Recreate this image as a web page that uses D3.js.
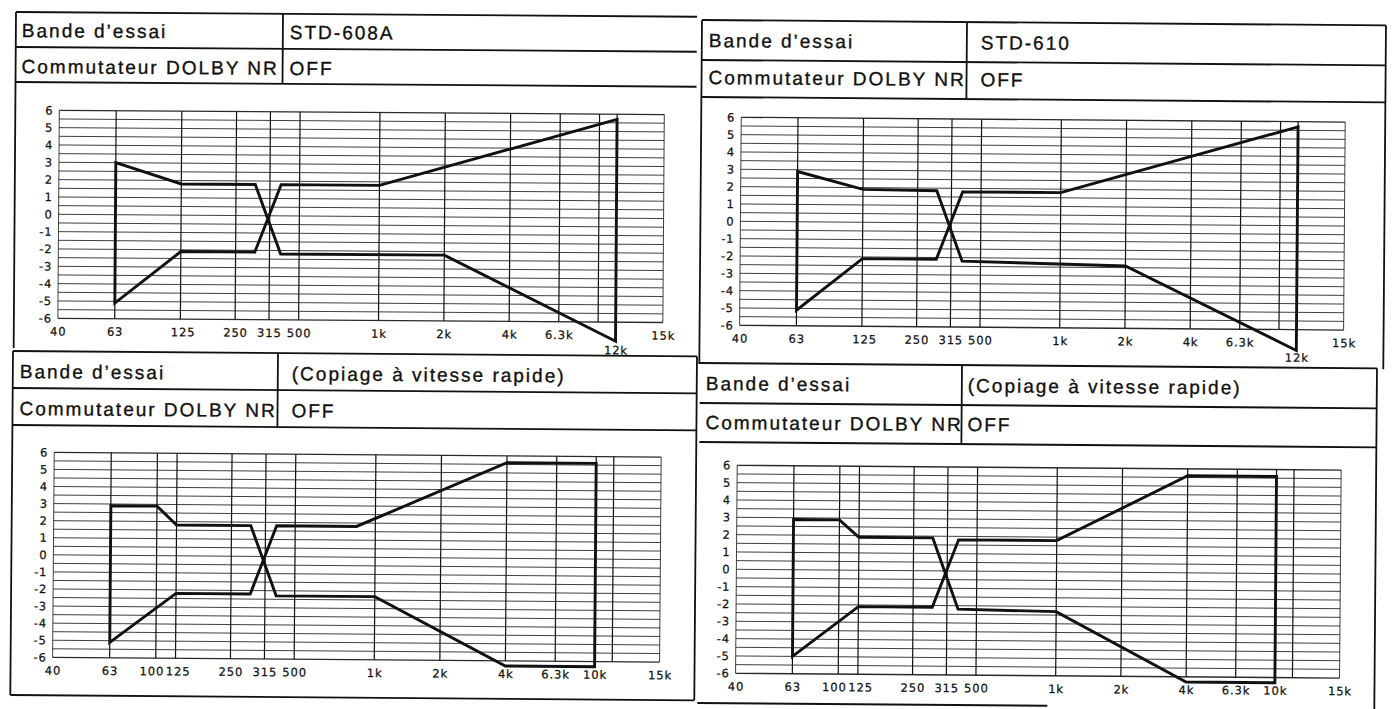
<!DOCTYPE html>
<html><head><meta charset="utf-8">
<script src="https://cdn.jsdelivr.net/npm/d3@7"></script>
<style>html,body{margin:0;padding:0;background:#fff;} svg{display:block}</style>
</head><body>
<svg id="chart" width="1394" height="709"></svg>
<script>
// ---------------- data ----------------
const rowLabels = ["Bande d\u2019essai", "Commutateur DOLBY NR"];
const tapeNames = ["STD-608A", "STD-610", "(Copiage \u00e0 vitesse rapide)", "(Copiage \u00e0 vitesse rapide)"];
const dolbySettings = ["OFF", "OFF", "OFF", "OFF"];

const dbTicks = [6, 5, 4, 3, 2, 1, 0, -1, -2, -3, -4, -5, -6];
const dbGridStep = 0.5;

const gridFreqsTop = [63, 125, 250, 315, 500, 1000, 2000, 4000, 6300, 10000, 12000];
const gridFreqsBottom = [63, 100, 125, 250, 315, 500, 1000, 2000, 4000, 6300, 10000, 12000];

const tickFreqsTop = [40, 63, 125, 250, 315, 500, 1000, 2000, 4000, 6300, 15000];
const tickLabelsTop = ["40", "63", "125", "250", "315", "500", "1k", "2k", "4k", "6.3k", "15k"];
const lowTickFreqsTop = [12000];
const lowTickLabelsTop = ["12k"];
const tickFreqsBottom = [40, 63, 100, 125, 250, 315, 500, 1000, 2000, 4000, 6300, 10000, 15000];
const tickLabelsBottom = ["40", "63", "100", "125", "250", "315", "500", "1k", "2k", "4k", "6.3k", "10k", "15k"];

// tolerance limits (upper edge starts on the +3 dB side, lower edge on the -5 dB side)
const std608A_upperFreq = [63, 125, 285, 375, 2000, 12000];
const std608A_upperDb   = [3.0, 1.8, 1.8, -2.2, -2.2, -7.1];
const std608A_lowerFreq = [63, 125, 285, 375, 1000, 12000];
const std608A_lowerDb   = [-5.1, -2.1, -2.1, 1.8, 1.8, 5.7];

const std610_upperFreq = [63, 125, 285, 375, 2000, 12000];
const std610_upperDb   = [2.9, 1.9, 1.85, -2.2, -2.4, -7.2];
const std610_lowerFreq = [63, 125, 285, 375, 1000, 12000];
const std610_lowerDb   = [-5.1, -2.1, -2.1, 1.8, 1.8, 5.7];

const copyA_upperFreq = [63, 100, 125, 285, 375, 1000, 4000, 10000];
const copyA_upperDb   = [2.9, 2.9, 1.8, 1.8, -2.3, -2.3, -6.3, -6.3];
const copyA_lowerFreq = [63, 125, 285, 375, 850, 4000, 10000];
const copyA_lowerDb   = [-5.1, -2.2, -2.2, 1.8, 1.8, 5.6, 5.6];

const copyB_upperFreq = [63, 100, 125, 285, 375, 1000, 4000, 10000];
const copyB_upperDb   = [2.9, 2.9, 1.9, 1.9, -2.2, -2.3, -6.3, -6.3];
const copyB_lowerFreq = [63, 125, 285, 375, 1000, 4000, 10000];
const copyB_lowerDb   = [-5.0, -2.1, -2.1, 1.8, 1.8, 5.6, 5.6];

// ---------------- layout ----------------
// the printed frequency axis is not a true log axis: anchor frequencies and their relative place
const axisAnchorFreqs = [40, 63, 100, 125, 250, 315, 500, 1000, 2000, 4000, 6300, 10000, 12000, 15000];
const axisAnchorFrac  = [0, 0.094, 0.170, 0.2025, 0.293, 0.349, 0.398, 0.530, 0.638, 0.746, 0.828, 0.893, 0.922, 1];

const panels = [
  { x:16, y:12, w:681, r1:35, r2:70, div:267, valX:274, textX:6, base1:25, base2:61,
    px:44, py:98, pw:605, ph:208, rot:0.4, bottomAxis:false,
    upF:std608A_upperFreq, upD:std608A_upperDb, loF:std608A_lowerFreq, loD:std608A_lowerDb,
    border:{left:[0,336]} },
  { x:702, y:20, w:684, r1:40, r2:77, div:265, valX:279, textX:7, base1:27, base2:64,
    px:40, py:97, pw:604, ph:208, rot:0.45, bottomAxis:false,
    upF:std610_upperFreq, upD:std610_upperDb, loF:std610_lowerFreq, loD:std610_lowerDb,
    border:{left:[0,344], right:[0,344]} },
  { x:13, y:351, w:684, r1:37, r2:74, div:265, valX:279, textX:7, base1:27, base2:64,
    px:42, py:101, pw:607, ph:205, rot:0.45, bottomAxis:true,
    upF:copyA_upperFreq, upD:copyA_upperDb, loF:copyA_lowerFreq, loD:copyA_lowerDb,
    border:{left:[0,344], right:[0,344], bottom:[0,684,344]} },
  { x:700, y:363, w:677, r1:40, r2:79, div:262, valX:268, textX:6, base1:27, base2:66,
    px:38, py:102, pw:604, ph:208, rot:0.45, bottomAxis:true,
    upF:copyB_upperFreq, upD:copyB_upperDb, loF:copyB_lowerFreq, loD:copyB_lowerDb,
    border:{right:[0,360], bottom:[0,350,340]} }
];

const svg = d3.select("#chart");
svg.append("rect").attr("width",1394).attr("height",709).attr("fill","#fff");

const headFont = "'Liberation Sans', Arial, Helvetica, sans-serif";
const tickFont = "'DejaVu Sans', 'Liberation Sans', sans-serif";
const ink = "#111";

function styleTicks(sel, spacing) {
  sel.attr("font-family", tickFont).attr("font-size", 11.5).attr("fill", ink)
     .attr("stroke", ink).attr("stroke-width", 0.25).attr("letter-spacing", spacing);
}

panels.forEach((p, i) => {
  const g = svg.append("g").attr("transform", `translate(${p.x},${p.y}) rotate(${p.rot})`);

  // ---- frame / header table ----
  const line = (x1,y1,x2,y2,w) => g.append("line").attr("x1",x1).attr("y1",y1).attr("x2",x2).attr("y2",y2)
      .attr("stroke",ink).attr("stroke-width",w||1.8);
  line(0,0,p.w,0);
  line(0,p.r1,p.w,p.r1);
  line(0,p.r2,p.w,p.r2);
  line(p.div,0,p.div,p.r2);
  if (p.border.left) line(0,p.border.left[0],0,p.border.left[1]);
  if (p.border.right) line(p.w,p.border.right[0],p.w,p.border.right[1]);
  if (p.border.bottom) line(p.border.bottom[0],p.border.bottom[2],p.border.bottom[1],p.border.bottom[2]);

  const txt = (x,y,s) => g.append("text").attr("x",x).attr("y",y).text(s)
      .attr("font-family",headFont).attr("font-size",19).attr("letter-spacing",2)
      .attr("fill",ink).attr("stroke",ink).attr("stroke-width",0.35);
  txt(p.textX, p.base1, rowLabels[0]);
  txt(p.textX, p.base2, rowLabels[1]);
  txt(p.valX, p.base1, tapeNames[i]);
  txt(p.valX, p.base2, dolbySettings[i]);

  // ---- plot ----
  const x = d3.scaleLog().domain(axisAnchorFreqs).range(axisAnchorFrac.map(f => f * p.pw));
  const y = d3.scaleLinear().domain([-6, 6]).range([p.ph, 0]);
  const plot = g.append("g").attr("transform", `translate(${p.px},${p.py})`);

  const hLines = d3.range(-6, 6 + 1e-9, dbGridStep);
  plot.append("g").selectAll("line").data(hLines).join("line")
    .attr("x1", 0).attr("x2", p.pw).attr("y1", d => y(d)).attr("y2", d => y(d))
    .attr("stroke", "#2a2a2a").attr("stroke-width", d => (Math.abs(d) === 6) ? 1.3 : 0.9);

  const vFreqs = p.bottomAxis ? gridFreqsBottom : gridFreqsTop;
  plot.append("g").selectAll("line").data([40, ...vFreqs, 15000]).join("line")
    .attr("x1", d => x(d)).attr("x2", d => x(d)).attr("y1", 0).attr("y2", p.ph)
    .attr("stroke", ink).attr("stroke-width", d => (d === 40 || d === 15000) ? 0.8 : 1.2);

  // y axis labels
  const yAxis = d3.axisLeft(y).tickValues(dbTicks).tickSize(0).tickPadding(6)
    .tickFormat(d => d < 0 ? "-" + Math.abs(d) : String(d));
  const ya = plot.append("g").call(yAxis);
  ya.select(".domain").remove();
  styleTicks(ya.selectAll("text"), 0.8);

  // x axis labels
  const tf = p.bottomAxis ? tickFreqsBottom : tickFreqsTop;
  const tl = p.bottomAxis ? tickLabelsBottom : tickLabelsTop;
  const xAxis = d3.axisBottom(x).tickValues(tf).tickSize(0).tickPadding(9)
    .tickFormat(d => tl[tf.indexOf(d)]);
  const xa = plot.append("g").attr("transform", `translate(0,${p.ph})`).call(xAxis);
  xa.select(".domain").remove();
  styleTicks(xa.selectAll("text"), 0.9);
  // the printed "100" and "125" labels butt against each other: push them apart
  xa.selectAll(".tick").filter(d => d === 100).select("text").attr("text-anchor", "end").attr("dx", 8);
  xa.selectAll(".tick").filter(d => d === 125).select("text").attr("text-anchor", "start").attr("dx", -10);

  if (!p.bottomAxis) {
    const xAxis2 = d3.axisBottom(x).tickValues(lowTickFreqsTop).tickSize(0).tickPadding(24)
      .tickFormat((d, k) => lowTickLabelsTop[k]);
    const xb = plot.append("g").attr("transform", `translate(0,${p.ph})`).call(xAxis2);
    xb.select(".domain").remove();
    styleTicks(xb.selectAll("text"), 0.9);
  }

  // tolerance outline: upper edge forward, lower edge backward, closed
  const pts = p.upF.map((f, k) => [f, p.upD[k]])
    .concat(p.loF.map((f, k) => [f, p.loD[k]]).reverse());
  const lineGen = d3.line().x(d => x(d[0])).y(d => y(d[1])).curve(d3.curveLinearClosed);
  plot.append("path").attr("d", lineGen(pts))
    .attr("fill", "none").attr("stroke", ink).attr("stroke-width", 2.9)
    .attr("stroke-linejoin", "miter").attr("stroke-miterlimit", 3);
});
</script>
</body></html>
